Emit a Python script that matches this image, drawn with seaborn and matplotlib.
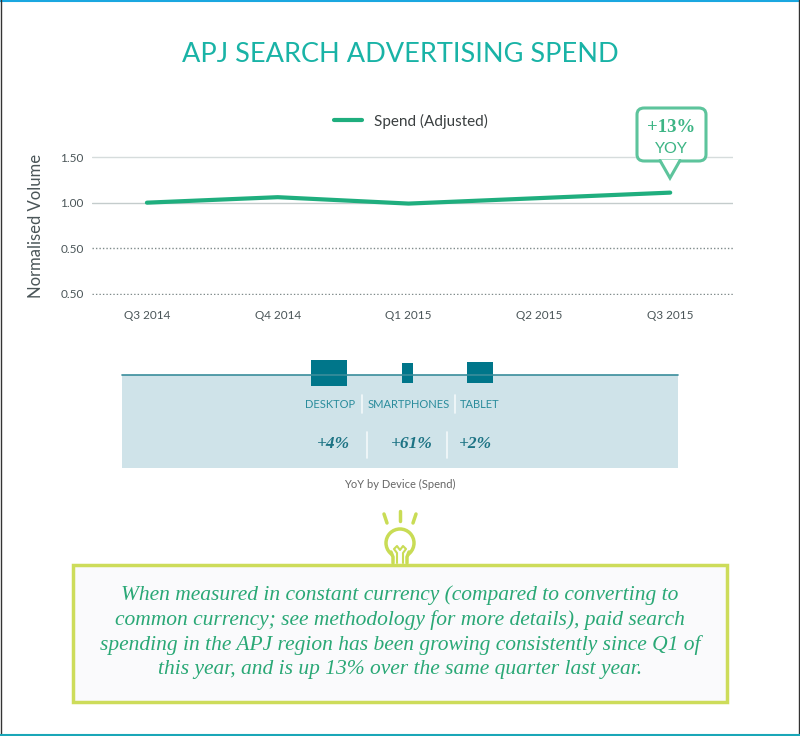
import pandas as pd
import matplotlib.pyplot as plt
import matplotlib.patches as mpatches
from matplotlib.lines import Line2D
import seaborn as sns

# Data
quarters = ['Q3 2014', 'Q4 2014', 'Q1 2015', 'Q2 2015', 'Q3 2015']
spend = [1.00, 1.06, 0.99, 1.05, 1.11]
y_ticks = [0.0, 0.5, 1.0, 1.5]
y_tick_labels = ['0.50', '0.50', '1.00', '1.50']
devices = ['DESKTOP', 'SMARTPHONES', 'TABLET']
device_yoy = ['+4%', '+61%', '+2%']
yoy_total = '+13%'
note = ('When measured in constant currency (compared to converting to\n'
        'common currency; see methodology for more details), paid search\n'
        'spending in the APJ region has been growing consistently since Q1 of\n'
        'this year, and is up 13% over the same quarter last year.')

df = pd.DataFrame({'quarter': quarters, 'spend': spend})

sns.set_style('white')
plt.rcParams['font.family'] = ['Lato', 'DejaVu Sans']

W, H = 800, 736
fig = plt.figure(figsize=(W / 100, H / 100), dpi=100)


def fx(x):
    return x / W


def fy(y):
    return 1 - y / H


# page frame
fig.add_artist(Line2D([0, 1], [fy(1), fy(1)], color='#1aa7e0', lw=1.5))
fig.add_artist(Line2D([fx(0.5), fx(0.5)], [0, 1], color='#333333', lw=1))
fig.add_artist(Line2D([fx(798.5), fx(798.5)], [0, 1], color='#333333', lw=1))
fig.add_artist(Line2D([0, 1], [fy(735), fy(735)], color='#1aa7b8', lw=1.5))

# title
fig.text(0.5, fy(55), 'APJ SEARCH ADVERTISING SPEND', ha='center', va='center',
         fontsize=19.5, color='#19b3a6', fontweight='normal')

# line chart
ax = fig.add_axes([fx(92), fy(295), fx(733) - fx(92), fy(156) - fy(295)])
sns.lineplot(data=df, x='quarter', y='spend', ax=ax, color='#1fae7e', lw=3,
             sort=False, label='Spend (Adjusted)', clip_on=False)
ax.set_xlim(-0.42, 4.48)
ax.set_ylim(-0.011, 1.511)
ax.set_yticks(y_ticks)
ax.set_yticklabels(y_tick_labels)
ax.set_xlabel('')
ax.set_ylabel('Normalised Volume', fontsize=12, color='#4a5558', labelpad=12)
ax.tick_params(axis='both', length=0, labelsize=8.5, labelcolor='#4a5558')
ax.tick_params(axis='x', pad=11)
ax.tick_params(axis='y', pad=6)
sns.despine(ax=ax, left=True, bottom=True)
ax.yaxis.grid(True, color='#7f8a8a', lw=1, ls=(0, (1, 1.5)))
ax.set_axisbelow(True)
grids = ax.get_ygridlines()
grids[-1].set_linestyle('-')
grids[-1].set_color('#d6dcdc')
grids[-2].set_linestyle('-')
grids[-2].set_color('#c4cccc')
ax.get_legend().remove()
fig.legend(handles=[Line2D([], [], color='#1fae7e', lw=3)], labels=['Spend (Adjusted)'],
           loc='center', bbox_to_anchor=(fx(411), fy(121)), frameon=False,
           fontsize=11, handlelength=1.8, labelcolor='#3a3f40')

# YOY callout bubble
green = '#5dc49c'
fig.add_artist(mpatches.FancyBboxPatch((fx(637), fy(161)), fx(706) - fx(637), fy(108) - fy(161),
                                       boxstyle='round,pad=0,rounding_size=0.009',
                                       transform=fig.transFigure, fc='white', ec=green, lw=2.2))
fig.add_artist(mpatches.Polygon([(fx(661), fy(160)), (fx(679), fy(160)), (fx(670), fy(175))],
                                closed=True, transform=fig.transFigure, fc='white', ec='none'))
fig.add_artist(Line2D([fx(660), fx(670), fx(680)], [fy(160.5), fy(178), fy(160.5)],
                      color=green, lw=2.2, solid_joinstyle='miter'))
fig.text(fx(671), fy(128), yoy_total, ha='center', va='center', fontsize=13.5,
         fontweight='bold', color='#3db585', family=['Liberation Serif', 'DejaVu Serif'])
fig.text(fx(671), fy(149), 'YOY', ha='center', va='center', fontsize=11.5, color='#3db585')

# device panel
fig.add_artist(mpatches.Rectangle((fx(122), fy(468)), fx(678) - fx(122), fy(375) - fy(468),
                                  transform=fig.transFigure, fc='#cfe3e9', ec='none'))
fig.add_artist(Line2D([fx(122), fx(678)], [fy(375), fy(375)], color='#3a8d9c', lw=1.2))
dev_color = '#00768a'
for x0, x1, y0, y1 in [(311, 347, 360, 386), (402, 413, 363, 383), (467, 493, 362, 383)]:
    fig.add_artist(mpatches.Rectangle((fx(x0), fy(y1)), fx(x1) - fx(x0), fy(y0) - fy(y1),
                                      transform=fig.transFigure, fc=dev_color, ec='none'))
for name, xc in zip(devices, [330, 409, 480]):
    fig.text(fx(xc), fy(404), name, ha='center', va='center', fontsize=8, color='#2a8c9c')
for xs in [362, 455]:
    fig.add_artist(Line2D([fx(xs), fx(xs)], [fy(395), fy(413)], color='#f4f9fa', lw=1.2))
for val, xc in zip(device_yoy, [333, 412, 476]):
    fig.text(fx(xc), fy(444), val, ha='center', va='center', fontsize=12.5,
             fontweight='bold', style='italic', color='#1c7384',
             family=['Liberation Serif', 'DejaVu Serif'])
for xs in [367, 447]:
    fig.add_artist(Line2D([fx(xs), fx(xs)], [fy(432), fy(458)], color='#f4f9fa', lw=1.2))
fig.text(0.5, fy(484), 'YoY by Device (Spend)', ha='center', va='center',
         fontsize=8, color='#666666')

# light bulb
bulb = '#c9dc55'
fig.add_artist(mpatches.Ellipse((fx(400), fy(543)), 28 / W, 28 / H, transform=fig.transFigure,
                                 fc='white', ec=bulb, lw=2.5))
fig.add_artist(mpatches.Rectangle((fx(392), fy(563)), 16 / W, 10 / H,
                                  transform=fig.transFigure, fc='white', ec='none'))
fig.add_artist(Line2D([fx(391), fx(393), fx(393)], [fy(552), fy(557), fy(563)], color=bulb, lw=2.5))
fig.add_artist(Line2D([fx(409), fx(407), fx(407)], [fy(552), fy(557), fy(563)], color=bulb, lw=2.5))
fig.add_artist(Line2D([fx(397), fx(397), fx(394), fx(397), fx(400), fx(403), fx(406), fx(403), fx(403)],
                      [fy(563), fy(553), fy(549), fy(546), fy(550), fy(546), fy(549), fy(553), fy(563)],
                      color=bulb, lw=1.5))
for (x0, y0, x1, y1) in [(384, 514, 387, 523), (400, 511, 400, 521), (416, 514, 413, 523)]:
    fig.add_artist(Line2D([fx(x0), fx(x1)], [fy(y0), fy(y1)], color=bulb, lw=2.5))

# note box
fig.add_artist(mpatches.Rectangle((fx(73), fy(702)), fx(727) - fx(73), fy(565) - fy(702),
                                  transform=fig.transFigure, fc='#fafafc', ec='#cddc5a', lw=2.5))
fig.text(0.5, fy(632), note, ha='center', va='center', fontsize=15.5, style='italic',
         color='#2aa876', linespacing=1.33, family=['Liberation Serif', 'DejaVu Serif'])

fig.savefig('out.png', dpi=100)
